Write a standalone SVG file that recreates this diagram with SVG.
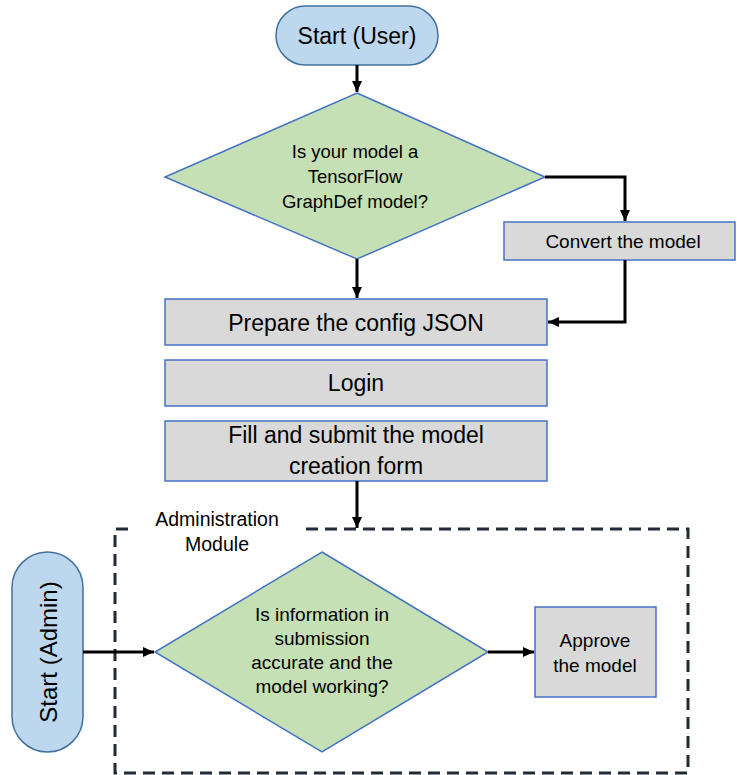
<svg xmlns="http://www.w3.org/2000/svg" width="737" height="775" viewBox="0 0 737 775">
<style>
text{font-family:"Liberation Sans",Arial,sans-serif;fill:#000;text-anchor:middle}
.pill{fill:#BDD7EE;stroke:#41719C;stroke-width:1.5}
.dia{fill:#C5E0B4;stroke:#4472C4;stroke-width:1.5}
.box{fill:#D9D9D9;stroke:#4472C4;stroke-width:1.5}
.con{fill:none;stroke:#000;stroke-width:3;marker-end:url(#ah)}
.grp{fill:none;stroke:#222A35;stroke-width:3;stroke-dasharray:12 7}
</style>
<defs>
<marker id="ah" markerUnits="userSpaceOnUse" markerWidth="12" markerHeight="12" refX="11" refY="6" orient="auto">
<path d="M0,1 L11,6 L0,11 z" fill="#000"/>
</marker>
</defs>
<g id="admin-module">
<path class="grp" d="M128,529 L115,529 L115,773 L688,773 L688,529 L302,529"/>
<text x="217" y="526" font-size="19.5">Administration</text>
<text x="217" y="551" font-size="19.5">Module</text>
</g>
<g id="start-user">
<rect class="pill" x="276" y="6" width="162" height="59" rx="29.5"/>
<text x="357" y="44" font-size="23">Start (User)</text>
</g>
<g id="q-graphdef">
<polygon class="dia" points="357,93 545,177 357,259 165,177"/>
<text x="355" y="158" font-size="18.5">Is your model a</text>
<text x="355" y="183" font-size="18.5">TensorFlow</text>
<text x="355" y="208" font-size="18.5">GraphDef model?</text>
</g>
<g id="convert">
<rect class="box" x="504" y="222" width="231" height="38"/>
<text x="623" y="248" font-size="19">Convert the model</text>
</g>
<g id="prepare">
<rect class="box" x="165" y="299" width="382" height="46"/>
<text x="356" y="331" font-size="23">Prepare the config JSON</text>
</g>
<g id="login">
<rect class="box" x="165" y="360" width="382" height="46"/>
<text x="356" y="391" font-size="23">Login</text>
</g>
<g id="fill-form">
<rect class="box" x="165" y="421" width="382" height="60"/>
<text x="356" y="443" font-size="23">Fill and submit the model</text>
<text x="356" y="474" font-size="23">creation form</text>
</g>
<g id="start-admin">
<rect class="pill" x="12" y="552" width="71" height="200" rx="35.5"/>
<text transform="translate(57,652) rotate(-90)" font-size="24">Start (Admin)</text>
</g>
<g id="q-accurate">
<polygon class="dia" points="322,552 488,652 322,752 155,652"/>
<text x="322" y="621" font-size="19">Is information in</text>
<text x="322" y="645" font-size="19">submission</text>
<text x="322" y="669" font-size="19">accurate and the</text>
<text x="322" y="693" font-size="19">model working?</text>
</g>
<g id="approve">
<rect class="box" x="535" y="607" width="121" height="90"/>
<text x="595" y="647" font-size="19">Approve</text>
<text x="595" y="672" font-size="19">the model</text>
</g>
<g id="connectors">
<path class="con" d="M357,65 L357,92"/>
<path class="con" d="M357,259 L357,298"/>
<path class="con" d="M545,177 L625,177 L625,221"/>
<path class="con" d="M625,260 L625,322 L548,322"/>
<path class="con" d="M357,481 L357,528"/>
<path class="con" d="M83,652 L154,652"/>
<path class="con" d="M488,652 L534,652"/>
</g>
</svg>
